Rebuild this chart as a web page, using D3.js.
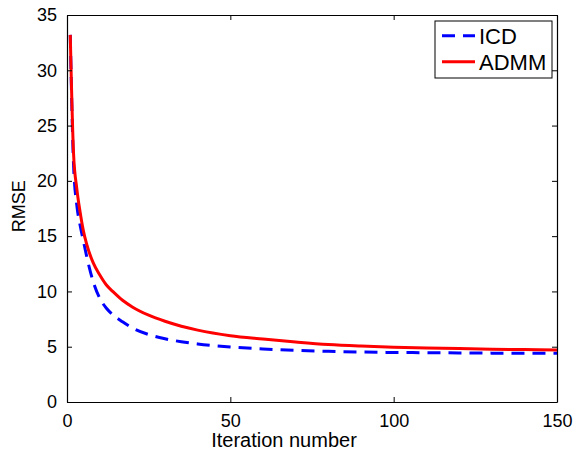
<!DOCTYPE html>
<html lang="en">
<head>
<meta charset="UTF-8">
<title>RMSE vs iteration</title>
<script src="https://d3js.org/d3.v7.min.js"></script>
<style>
    body { margin: 0; background: #fff; }
    svg { display: block; font-family: "Liberation Sans", Arial, sans-serif; }
</style>
</head>
<body>
<svg id="chart"></svg>
<script>
    // values
    const iterations = [1, 2, 3, 4, 5, 6, 8, 10, 12, 14, 17, 20, 25, 30, 35, 40, 50, 60, 70, 80, 90, 100, 110, 120, 130, 140, 150];
    const icd  = [33.2, 21.5, 17.8, 16.0, 14.6, 13.2, 10.9, 9.4, 8.5, 7.9, 7.25, 6.7, 6.1, 5.72, 5.45, 5.25, 4.97, 4.8, 4.67, 4.58, 4.52, 4.48, 4.46, 4.44, 4.42, 4.41, 4.40];
    const admm = [33.2, 22.5, 19.3, 17.2, 15.5, 14.3, 12.6, 11.5, 10.6, 10.0, 9.2, 8.6, 7.85, 7.3, 6.85, 6.5, 6.0, 5.7, 5.43, 5.2, 5.06, 4.96, 4.89, 4.83, 4.78, 4.74, 4.70];
    const seriesNames = ["ICD", "ADMM"];
    const xTicks = [0, 50, 100, 150];
    const yTicks = [0, 5, 10, 15, 20, 25, 30, 35];

    const width = 577, height = 451;
    const margin = {top: 15, right: 20, bottom: 49, left: 67};

    const svg = d3.select("#chart").attr("width", width).attr("height", height);

    const x = d3.scaleLinear().domain([0, 150]).range([margin.left, width - margin.right]);
    const y = d3.scaleLinear().domain([0, 35]).range([height - margin.bottom, margin.top]);

    const series = [
        {name: seriesNames[0], values: icd, color: "#0000ff", dash: "13,8"},
        {name: seriesNames[1], values: admm, color: "#ff0000", dash: null}
    ];

    const line = d3.line()
        .x(d => x(d[0]))
        .y(d => y(d[1]))
        .curve(d3.curveMonotoneX);

    // curves
    svg.append("g").selectAll("path")
        .data(series)
        .enter()
        .append("path")
        .attr("d", s => line(iterations.map((it, i) => [it, s.values[i]])))
        .attr("fill", "none")
        .attr("stroke", s => s.color)
        .attr("stroke-width", 3)
        .attr("stroke-dasharray", s => s.dash);

    // axes, matlab style: ticks inside, box all round
    const tickLen = 5;
    svg.append("g")
        .attr("transform", `translate(0,${y(0)})`)
        .call(d3.axisBottom(x).tickValues(xTicks).tickSizeInner(-tickLen).tickSizeOuter(0).tickPadding(12))
        .call(g => g.selectAll("text").attr("font-size", 18).attr("fill", "#000"));
    svg.append("g")
        .attr("transform", `translate(0,${y(35)})`)
        .call(d3.axisTop(x).tickValues(xTicks).tickSizeInner(-tickLen).tickSizeOuter(0).tickFormat(""));
    svg.append("g")
        .attr("transform", `translate(${x(0)},0)`)
        .call(d3.axisLeft(y).tickValues(yTicks).tickSizeInner(-tickLen).tickSizeOuter(0).tickPadding(10))
        .call(g => g.selectAll("text").attr("font-size", 18).attr("fill", "#000"));
    svg.append("g")
        .attr("transform", `translate(${x(150)},0)`)
        .call(d3.axisRight(y).tickValues(yTicks).tickSizeInner(-tickLen).tickSizeOuter(0).tickFormat(""));

    svg.selectAll(".domain").attr("stroke", "#000").attr("stroke-width", 1.2);
    svg.selectAll(".tick line").attr("stroke", "#000");

    // axis labels
    svg.append("text")
        .text("Iteration number")
        .attr("x", x(75) - 28)
        .attr("y", 447)
        .attr("text-anchor", "middle")
        .attr("font-size", 20)
        .attr("fill", "#000");

    svg.append("text")
        .text("RMSE")
        .attr("transform", `translate(25,${y(17.7)}) rotate(-90)`)
        .attr("text-anchor", "middle")
        .attr("font-size", 18)
        .attr("fill", "#000");

    // legend
    const legend = svg.append("g").attr("transform", "translate(435,21)");
    legend.append("rect")
        .attr("width", 117)
        .attr("height", 57)
        .attr("fill", "#fff")
        .attr("stroke", "#000")
        .attr("stroke-width", 1);

    const item = legend.selectAll(".item")
        .data(series)
        .enter()
        .append("g")
        .attr("class", "item")
        .attr("transform", (d, i) => `translate(0,${14.7 + i * 26})`);

    item.append("line")
        .attr("x1", 7).attr("x2", 40)
        .attr("stroke", d => d.color)
        .attr("stroke-width", 3)
        .attr("stroke-dasharray", d => d.dash);

    item.append("text")
        .text(d => d.name)
        .attr("x", 44)
        .attr("y", 8.5)
        .attr("font-size", 22)
        .attr("fill", "#000");
</script>
</body>
</html>
